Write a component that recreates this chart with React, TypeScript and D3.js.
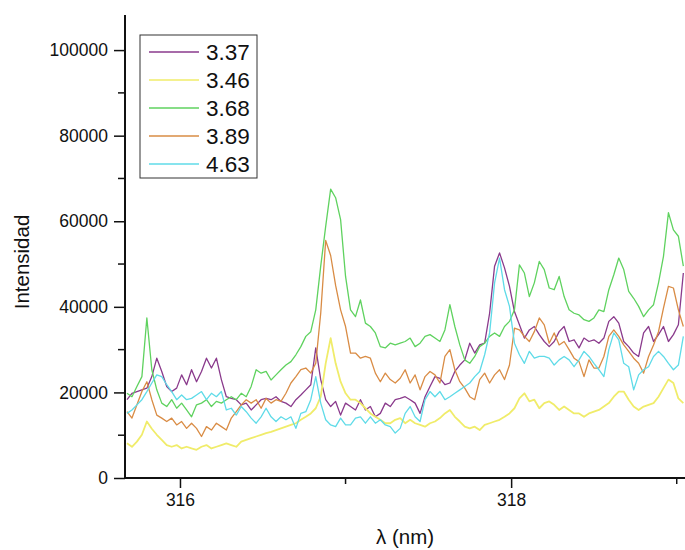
import * as d3 from "d3";
import { useRef, useEffect } from "react";

// wavelength grid (nm)
const wavelength = [
  315.68, 315.71, 315.74, 315.77, 315.8, 315.83, 315.86, 315.89, 315.92, 315.95,
  315.98, 316.01, 316.04, 316.07, 316.1, 316.13, 316.16, 316.19, 316.22, 316.25,
  316.28, 316.31, 316.34, 316.37, 316.4, 316.43, 316.46, 316.49, 316.52, 316.55,
  316.58, 316.61, 316.64, 316.67, 316.7, 316.73, 316.76, 316.79, 316.82, 316.85,
  316.88, 316.91, 316.94, 316.97, 317.0, 317.03, 317.06, 317.09, 317.12, 317.15,
  317.18, 317.21, 317.24, 317.27, 317.3, 317.33, 317.36, 317.39, 317.42, 317.45,
  317.48, 317.51, 317.54, 317.57, 317.6, 317.63, 317.66, 317.69, 317.72, 317.75,
  317.78, 317.81, 317.84, 317.87, 317.9, 317.93, 317.96, 317.99, 318.02, 318.05,
  318.08, 318.11, 318.14, 318.17, 318.2, 318.23, 318.26, 318.29, 318.32, 318.35,
  318.38, 318.41, 318.44, 318.47, 318.5, 318.53, 318.56, 318.59, 318.62, 318.65,
  318.68, 318.71, 318.74, 318.77, 318.8, 318.83, 318.86, 318.89, 318.92, 318.95,
  318.98, 319.01, 319.04,
];

const s337 = [
  18300, 19800, 20200, 20600, 21000, 23700, 28000, 24900, 21400, 20200, 21000, 24100, 21800, 25300,
  22500, 24900, 28000, 25700, 28000, 23000, 19000, 18600, 18300, 17100, 17500, 15900, 17100, 18300,
  18600, 18300, 19000, 17900, 17500, 16700, 18300, 19400, 20600, 21800, 30400, 23000, 18300, 16700,
  17900, 14700, 17500, 16700, 15900, 18300, 15900, 16700, 14300, 15100, 17500, 16700, 18300, 18600,
  19000, 18300, 17500, 15100, 19000, 21400, 23700, 23300, 21800, 22200, 24900, 26400, 27600, 31500,
  29200, 31100, 31500, 38500, 49500, 52600, 49100, 44800, 38900, 35800, 32700, 34600, 35400, 33500,
  31900, 30700, 31900, 34200, 35400, 31900, 32300, 30400, 32700, 31900, 32300, 31500, 32700, 36600,
  37700, 36200, 31900, 30700, 29200, 28400, 33900, 35400, 31900, 33500, 35400, 31900, 33500, 35800,
  47900,
];

const s346 = [
  8100, 7300, 8500, 10100, 13200, 11500, 10100, 8900, 7700, 7300, 7700, 6900, 7300, 6900,
  6600, 7300, 7700, 6900, 7300, 7700, 8100, 7700, 7300, 8500, 8900, 9300, 9700, 10100,
  10500, 10800, 11200, 11600, 12000, 12400, 12800, 13600, 14300, 15100, 16300, 19000, 26800, 32700,
  26800, 22500, 19800, 18300, 18300, 17500, 16300, 15100, 14300, 13600, 12800, 12800, 13600, 14000,
  12800, 13600, 12800, 12400, 12000, 12800, 13200, 14000, 15100, 15900, 14300, 13200, 12000, 11600,
  12000, 11200, 12400, 12800, 13200, 13600, 14300, 15100, 16300, 18600, 19800, 17900, 18300, 16300,
  17500, 17900, 17100, 15900, 16700, 15900, 15100, 15100, 14300, 15100, 15500, 15900, 16700, 17500,
  19000, 20200, 20200, 18300, 16700, 15900, 16700, 17100, 17500, 19000, 21000, 23000, 22200, 18600,
  17500,
];

const s368 = [
  19800, 19000, 21400, 23700, 37400, 25300, 20600, 17500, 16700, 18300, 16300, 17500, 15900, 14300,
  17100, 17500, 18300, 16700, 17900, 17500, 18300, 19000, 18300, 19800, 19000, 21400, 25300, 24500,
  24900, 22900, 24100, 25300, 26400, 27200, 28800, 30700, 33100, 34200, 39300, 49500, 58800, 67500,
  65500, 60400, 47100, 39300, 37700, 41600, 36200, 35400, 33900, 30700, 30400, 31500, 31100, 31500,
  31900, 32700, 30700, 31500, 33100, 33500, 32700, 31900, 34600, 40500, 35400, 31100, 27600, 26800,
  28400, 30700, 31500, 33100, 33900, 33100, 35400, 36600, 39300, 49800, 47900, 42400, 45600, 50600,
  48700, 44400, 44000, 47100, 42400, 39300, 38500, 38100, 37000, 36600, 37400, 39300, 38900, 44000,
  47500, 51400, 48700, 43600, 42000, 40100, 37700, 39300, 40500, 45600, 51800, 62000, 58000, 56500,
  49500,
];

const s389 = [
  15500, 14000, 17100, 20200, 22500, 18300, 14700, 14000, 13200, 14000, 12400, 13200, 11600, 12800,
  11600, 9700, 12000, 11200, 12800, 12000, 11200, 14000, 15500, 17100, 18300, 17500, 18300, 16300,
  18600, 17500, 18300, 17900, 19800, 22200, 23700, 25300, 25700, 24500, 26800, 38500, 55500, 52000,
  45000, 39300, 35400, 29200, 29200, 28000, 28400, 28000, 24500, 22500, 24500, 23000, 22200, 23300,
  25300, 22200, 24100, 20600, 23700, 24900, 24100, 22200, 28400, 30000, 25300, 22500, 21000, 19000,
  18300, 23000, 24500, 22200, 24100, 25300, 23000, 26400, 35000, 34600, 33100, 31900, 34200, 37400,
  35800, 31500, 33900, 31100, 31900, 30000, 28000, 27200, 23700, 27600, 25700, 25700, 28400, 33100,
  34600, 33100, 31100, 29600, 28000, 26800, 24500, 28400, 31100, 34200, 39700, 44800, 44400, 39300,
  35400,
];

const s463 = [
  15100, 15900, 17100, 18300, 20200, 22200, 24100, 23700, 21800, 20200, 18300, 19400, 18300, 18600,
  19400, 20200, 18300, 19800, 19000, 20200, 15900, 16300, 14700, 16700, 15500, 14000, 12800, 14300,
  16300, 14300, 13200, 14300, 13600, 14300, 11600, 15100, 15500, 18300, 23700, 17500, 13600, 12400,
  12000, 14000, 12400, 12400, 14000, 14300, 12800, 14300, 12800, 13600, 12400, 12000, 10500, 11600,
  15100, 16700, 14300, 13200, 18300, 20200, 19000, 20200, 18300, 19000, 19800, 20600, 21400, 22200,
  23700, 24900, 28800, 33900, 45600, 51400, 44000, 40100, 31500, 28800, 26800, 29600, 28000, 28400,
  28400, 28000, 26400, 27600, 28400, 27600, 26000, 27600, 29600, 28400, 26800, 25300, 23700, 30000,
  33900, 32300, 26800, 26000, 20600, 24100, 25300, 26000, 28400, 29600, 28400, 26800, 25300, 26400,
  33100,
];

const seriesNames = ["3.37", "3.46", "3.68", "3.89", "4.63"];
const seriesValues = [s337, s346, s368, s389, s463];
const seriesColors = ["#8a3a8c", "#f0ec6a", "#5fd25f", "#d98c45", "#5fdbe8"];

const yTicks = [0, 20000, 40000, 60000, 80000, 100000];
const yMinorTicks = [10000, 30000, 50000, 70000, 90000];
const xTicks = [316, 318];
const xMinorTicks = [317, 319];

const App = () => {
  const container = useRef(null);

  useEffect(() => {
    const node = container.current;
    const width = 685;
    const height = 550;
    const margins = { l: 125, r: 0, t: 15, b: 72 };

    const svg = d3
      .select(node)
      .selectAll("svg")
      .data([0])
      .join("svg")
      .attr("width", width)
      .attr("height", height)
      .style("position", "absolute")
      .style("left", 0)
      .style("top", 0)
      .style("background", "#fff");

    svg.selectAll("*").remove();

    const xScale = d3
      .scaleLinear()
      .domain([315.668, 319.05])
      .range([margins.l, width - margins.r]);

    const yScale = d3
      .scaleLinear()
      .domain([0, 108200])
      .range([height - margins.b, margins.t]);

    const font = "Liberation Sans, Arial, Helvetica, sans-serif";

    // lines
    const line = d3
      .line<number>()
      .x((d, i) => xScale(wavelength[i]))
      .y((d) => yScale(d));

    const plot_g = svg.append("g").attr("class", "plot-g");
    plot_g
      .selectAll(".series")
      .data(seriesValues)
      .join("path")
      .attr("class", "series")
      .attr("d", (d) => line(d))
      .attr("fill", "none")
      .attr("stroke", (d, i) => seriesColors[i])
      .attr("stroke-width", (d, i) => (i === 1 ? 1.8 : 1.3))
      .attr("stroke-linejoin", "round");

    // y axis
    const yAxis = d3
      .axisLeft(yScale)
      .tickValues(yTicks)
      .tickSize(11)
      .tickPadding(6)
      .tickFormat(d3.format("d"));
    const yg = svg
      .append("g")
      .attr("transform", `translate(${margins.l},0)`)
      .call(yAxis);
    yg.select(".domain").remove();
    yg.selectAll("text").style("font-family", font).style("font-size", "17.5px").attr("fill", "#111");
    yg.selectAll("line").attr("stroke", "#111").attr("stroke-width", 1.5);

    svg
      .append("g")
      .selectAll("line")
      .data(yMinorTicks)
      .join("line")
      .attr("x1", margins.l - 7)
      .attr("x2", margins.l)
      .attr("y1", (d) => yScale(d))
      .attr("y2", (d) => yScale(d))
      .attr("stroke", "#111")
      .attr("stroke-width", 1.5);

    // x axis
    const xAxis = d3
      .axisBottom(xScale)
      .tickValues(xTicks)
      .tickSize(10)
      .tickPadding(6)
      .tickFormat(d3.format("d"));
    const xg = svg
      .append("g")
      .attr("transform", `translate(0,${height - margins.b})`)
      .call(xAxis);
    xg.select(".domain").remove();
    xg.selectAll("text").style("font-family", font).style("font-size", "17.5px").attr("fill", "#111");
    xg.selectAll("line").attr("stroke", "#111").attr("stroke-width", 1.5);

    svg
      .append("g")
      .selectAll("line")
      .data(xMinorTicks)
      .join("line")
      .attr("x1", (d) => xScale(d))
      .attr("x2", (d) => xScale(d))
      .attr("y1", height - margins.b)
      .attr("y2", height - margins.b + 6)
      .attr("stroke", "#111")
      .attr("stroke-width", 1.5);

    // axis lines
    svg
      .append("line")
      .attr("x1", margins.l)
      .attr("x2", margins.l)
      .attr("y1", margins.t)
      .attr("y2", height - margins.b + 1)
      .attr("stroke", "#111")
      .attr("stroke-width", 2);
    svg
      .append("line")
      .attr("x1", margins.l - 1)
      .attr("x2", width)
      .attr("y1", height - margins.b)
      .attr("y2", height - margins.b)
      .attr("stroke", "#111")
      .attr("stroke-width", 2);

    // axis titles
    svg
      .append("text")
      .attr("transform", `translate(29,${262}) rotate(-90)`)
      .attr("text-anchor", "middle")
      .style("font-family", font)
      .style("font-size", "20.5px")
      .attr("fill", "#111")
      .text("Intensidad");

    svg
      .append("text")
      .attr("x", 405)
      .attr("y", 544)
      .attr("text-anchor", "middle")
      .style("font-family", font)
      .style("font-size", "20.5px")
      .attr("fill", "#111")
      .text("λ (nm)");

    // legend
    const legend_g = svg.append("g").attr("transform", "translate(140,35)");
    legend_g
      .append("rect")
      .attr("width", 117)
      .attr("height", 143)
      .attr("fill", "#fff")
      .attr("stroke", "#333")
      .attr("stroke-width", 1);
    const items = legend_g
      .selectAll(".legend-item")
      .data(seriesNames)
      .join("g")
      .attr("class", "legend-item")
      .attr("transform", (d, i) => `translate(0,${17 + i * 28})`);
    items
      .append("line")
      .attr("x1", 9)
      .attr("x2", 59)
      .attr("stroke", (d, i) => seriesColors[i])
      .attr("stroke-width", 1.5);
    items
      .append("text")
      .attr("x", 66)
      .attr("dy", "0.36em")
      .style("font-family", font)
      .style("font-size", "22.5px")
      .attr("fill", "#111")
      .text((d) => d);
  });

  return <div ref={container}></div>;
};

export default App;
